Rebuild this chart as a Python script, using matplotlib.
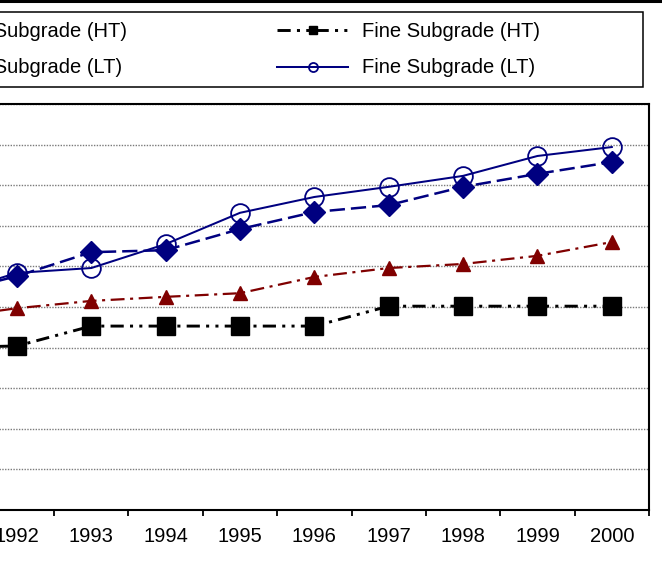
import numpy as np
import matplotlib
matplotlib.use("Agg")
import matplotlib.pyplot as plt
from matplotlib.lines import Line2D
from matplotlib.patches import Rectangle

plt.rcParams['font.family'] = ['Liberation Sans', 'DejaVu Sans']
plt.rcParams['lines.scale_dashes'] = False

years = ['1991', '1992', '1993', '1994', '1995', '1996', '1997', '1998', '1999', '2000']
coarse_ht = [4.72, 4.97, 5.15, 5.25, 5.34, 5.74, 5.96, 6.06, 6.26, 6.60]
fine_ht = [4.00, 4.04, 4.53, 4.53, 4.53, 4.53, 5.02, 5.02, 5.02, 5.02]
coarse_lt = [5.30, 5.76, 6.35, 6.40, 6.92, 7.34, 7.51, 7.96, 8.28, 8.57]
fine_lt = [5.28, 5.84, 5.96, 6.55, 7.32, 7.71, 7.96, 8.23, 8.72, 8.94]
labels = ['Coarse Subgrade (HT)', 'Fine Subgrade (HT)',
          'Coarse Subgrade (LT)', 'Fine Subgrade (LT)']

W, H = 662, 562
def fx(x): return x / W
def fy(y): return 1 - y / H

navy = '#000080'
maroon = '#800000'
styles = [
    dict(color=maroon, lw=1.6, ls=(0, (10, 4, 2.2, 4)), marker='^', ms=9.5, mfc=maroon, mec=maroon),
    dict(color='black', lw=2.1, ls=(0, (9.5, 4.5, 2.2, 4.5, 2.2, 4.5)), marker='s', ms=13, mfc='black', mec='black'),
    dict(color=navy, lw=1.8, ls=(0, (11, 4.3)), marker='D', ms=11, mfc=navy, mec=navy),
    dict(color=navy, lw=1.45, ls='-', marker='o', ms=13.5, mfc='none', mec=navy, mew=1.3),
]
series = [coarse_ht, fine_ht, coarse_lt, fine_lt]

fig = plt.figure(figsize=(6.62, 5.62), dpi=100)
ax = fig.add_axes([fx(-94.6), fy(510), (649 + 94.6) / W, 406 / H])

x = np.arange(len(years))
for vals, st in zip(series, styles):
    ax.plot(x, vals, **st)

ax.set_xlim(-0.5, len(years) - 0.5)
ax.set_ylim(0, 10)
ax.set_yticks(range(0, 11))
ax.yaxis.grid(True, color='#7a7a7a', ls=(0, (1, 1)), lw=1.0)
ax.set_axisbelow(True)
ax.set_xticks(x)
ax.set_xticklabels(years, fontsize=14.5)
ax.set_xticks(np.arange(-0.5, len(years), 1), minor=True)
ax.tick_params(axis='x', which='major', length=0, pad=12.5)
ax.tick_params(axis='x', which='minor', length=4.5, width=1.3, direction='out')
for sp in ax.spines.values():
    sp.set_linewidth(1.5)

# chart area border (top edge visible)
fig.add_artist(Line2D([0, 1], [fy(1.2), fy(1.2)], color='black', lw=2.2, transform=fig.transFigure))

# legend box, laid out like the spreadsheet one (two equal columns, rows filled first)
fig.add_artist(Rectangle((fx(-120), fy(87)), fx(643 + 120), (87 - 12) / H, fill=False,
                         ec='black', lw=1.1, transform=fig.transFigure))
col_x = [-162, 277]
row_y = [30, 67]
base_y = [37, 73]
leg_ms = [6, 6, 6.5, 6.5]
for i, (lab, st) in enumerate(zip(labels, styles)):
    c, r = i % 2, i // 2
    x0 = col_x[c]
    s = dict(st)
    mk = s.pop('marker')
    fig.add_artist(Line2D([fx(x0), fx(x0 + 71)], [fy(row_y[r])] * 2, transform=fig.transFigure,
                          color=s['color'], lw=s['lw'], ls=s['ls']))
    fig.add_artist(Line2D([fx(x0 + 36)], [fy(row_y[r])], transform=fig.transFigure, marker=mk,
                          ms=leg_ms[i], mfc=s['mfc'], mec=s['mec'], mew=s.get('mew', 1.0), ls='none'))
    fig.text(fx(x0 + 85), fy(base_y[r]), lab, fontsize=14.5, ha='left', va='baseline')

fig.savefig('out.png', dpi=100)
